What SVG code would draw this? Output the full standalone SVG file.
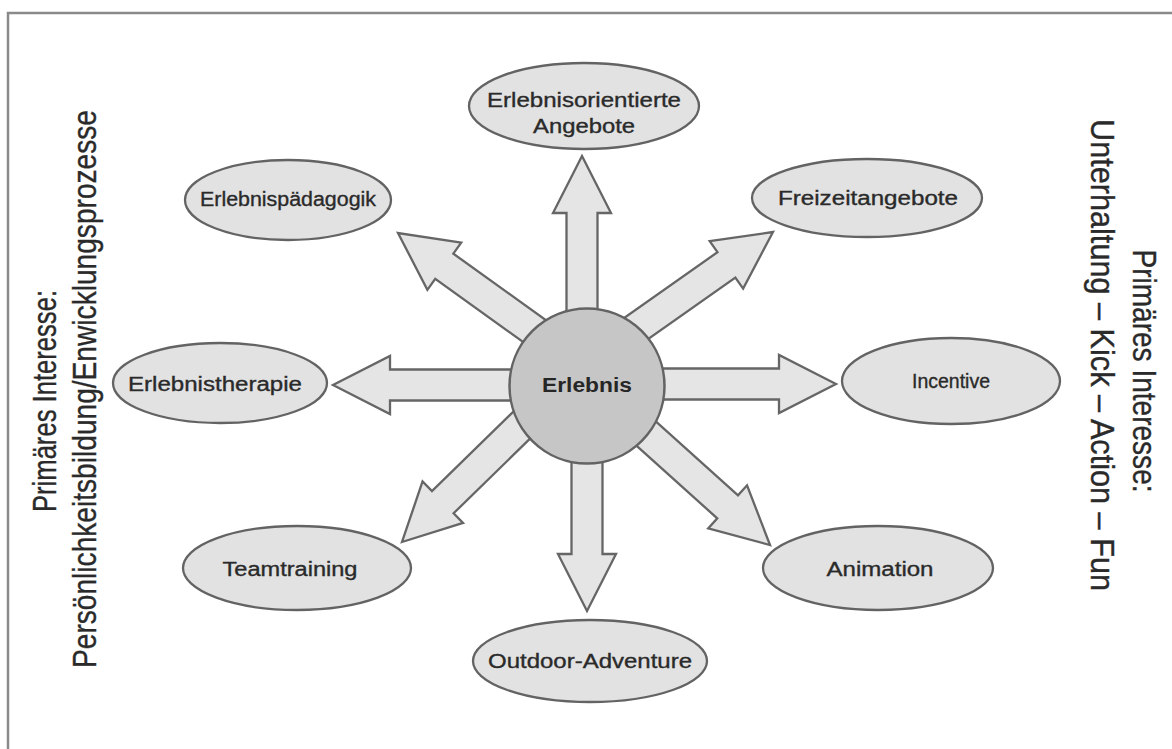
<svg xmlns="http://www.w3.org/2000/svg" width="1172" height="749" viewBox="0 0 1172 749">
  <defs>
    <style>
      .frame { fill: none; stroke: #8a8a8a; stroke-width: 2.5; }
      .arrow { fill: #e5e5e5; stroke: #666666; stroke-width: 2.3; stroke-linejoin: miter; }
      .node { fill: #e2e2e2; stroke: #636363; stroke-width: 2.3; }
      .hub { fill: #c6c6c6; stroke: #636363; stroke-width: 2.5; }
      .label { font-family: "Liberation Sans", Arial, sans-serif; font-size: 20px; fill: #2a2a2a; stroke: #2a2a2a; stroke-width: 0.35; text-anchor: middle; }
      .hub-label { font-family: "Liberation Sans", Arial, sans-serif; font-size: 20px; font-weight: bold; fill: #262626; text-anchor: middle; }
      .side { font-family: "Liberation Sans", Arial, sans-serif; font-size: 28px; fill: #2a2a2a; stroke: #2a2a2a; stroke-width: 0.3; text-anchor: middle; }
    </style>
    <!-- block arrow pointing along +x, tip at the origin -->
    <polygon id="block-arrow" points="0,0 -57,-29 -57,-15.5 -220,-15.5 -220,15.5 -57,15.5 -57,29"/>
  </defs>

  <rect width="1172" height="749" fill="#ffffff"/>
  <rect class="frame" x="8" y="13" width="1200" height="800"/>

  <!-- side captions -->
  <g id="caption-left">
    <text class="side" transform="translate(56,401) scale(1.2,1) rotate(-90)" textLength="222" lengthAdjust="spacingAndGlyphs">Primäres Interesse:</text>
    <text class="side" transform="translate(96,389) scale(1.2,1) rotate(-90)" textLength="558" lengthAdjust="spacingAndGlyphs">Persönlichkeitsbildung/Enwicklungsprozesse</text>
  </g>
  <g id="caption-right">
    <text class="side" transform="translate(1133,371) scale(1.2,1) rotate(90)" textLength="243" lengthAdjust="spacingAndGlyphs">Primäres Interesse:</text>
    <text class="side" transform="translate(1091,355) scale(1.2,1) rotate(90)" textLength="472" lengthAdjust="spacingAndGlyphs">Unterhaltung – Kick – Action – Fun</text>
  </g>

  <!-- connectors: block arrows radiating from the hub -->
  <g id="connectors">
    <use href="#block-arrow" class="arrow" transform="translate(582,156) rotate(-90)"/>
    <use href="#block-arrow" class="arrow" transform="translate(773,232) rotate(-35.2)"/>
    <use href="#block-arrow" class="arrow" transform="translate(836,384) rotate(0)"/>
    <use href="#block-arrow" class="arrow" transform="translate(770,545) rotate(42)"/>
    <use href="#block-arrow" class="arrow" transform="translate(587,611) rotate(90)"/>
    <use href="#block-arrow" class="arrow" transform="translate(402,542) rotate(135.7)"/>
    <use href="#block-arrow" class="arrow" transform="translate(333,385) rotate(180)"/>
    <use href="#block-arrow" class="arrow" transform="translate(398,233) rotate(215.7)"/>
  </g>

  <g id="hub">
    <circle class="hub" cx="587" cy="386" r="77.5"/>
    <text class="hub-label" x="587" y="392" textLength="90" lengthAdjust="spacingAndGlyphs">Erlebnis</text>
  </g>

  <g id="node-erlebnisorientierte-angebote">
    <ellipse class="node" cx="584" cy="106" rx="115" ry="43"/>
    <text class="label" x="584" y="107" textLength="194" lengthAdjust="spacingAndGlyphs">Erlebnisorientierte</text>
    <text class="label" x="584" y="133" textLength="102" lengthAdjust="spacingAndGlyphs">Angebote</text>
  </g>
  <g id="node-erlebnispaedagogik">
    <ellipse class="node" cx="288" cy="200" rx="103" ry="40"/>
    <text class="label" x="288" y="206" textLength="176" lengthAdjust="spacingAndGlyphs">Erlebnispädagogik</text>
  </g>
  <g id="node-freizeitangebote">
    <ellipse class="node" cx="867" cy="198" rx="115" ry="39"/>
    <text class="label" x="868" y="205" textLength="180" lengthAdjust="spacingAndGlyphs">Freizeitangebote</text>
  </g>
  <g id="node-erlebnistherapie">
    <ellipse class="node" cx="220" cy="383" rx="107" ry="40"/>
    <text class="label" x="215" y="391" textLength="174" lengthAdjust="spacingAndGlyphs">Erlebnistherapie</text>
  </g>
  <g id="node-incentive">
    <ellipse class="node" cx="951" cy="381" rx="109" ry="43"/>
    <text class="label" x="951" y="388" textLength="78" lengthAdjust="spacingAndGlyphs">Incentive</text>
  </g>
  <g id="node-teamtraining">
    <ellipse class="node" cx="297" cy="568" rx="114" ry="42"/>
    <text class="label" x="290" y="576" textLength="135" lengthAdjust="spacingAndGlyphs">Teamtraining</text>
  </g>
  <g id="node-animation">
    <ellipse class="node" cx="878" cy="568" rx="115" ry="42"/>
    <text class="label" x="880" y="576" textLength="107" lengthAdjust="spacingAndGlyphs">Animation</text>
  </g>
  <g id="node-outdoor-adventure">
    <ellipse class="node" cx="590" cy="661" rx="117" ry="41"/>
    <text class="label" x="590" y="668" textLength="204" lengthAdjust="spacingAndGlyphs">Outdoor-Adventure</text>
  </g>
</svg>
